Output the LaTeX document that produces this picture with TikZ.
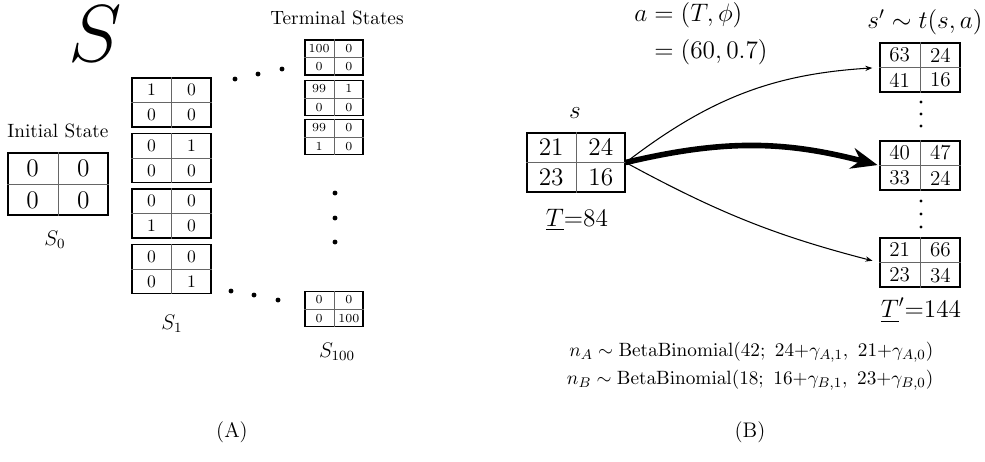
\RequirePackage{fix-cm}
\documentclass[tikz,border=0pt,11pt]{standalone}
\usepackage{amsmath,amssymb}
\usepackage{tikz}
\usetikzlibrary{positioning,calc,arrows.meta}

% 2x2 state table: style prefix, name, centre, four entries
\newcommand{\gridbox}[7]{%
  \node[#1box] (#2) at (#3) {};
  \draw[divider] (#2.north) -- (#2.south) (#2.west) -- (#2.east);
  \node[#1num] at ($(#2.center)!0.5!(#2.north west)$) {#4};
  \node[#1num] at ($(#2.center)!0.5!(#2.north east)$) {#5};
  \node[#1num] at ($(#2.center)!0.5!(#2.south west)$) {#6};
  \node[#1num] at ($(#2.center)!0.5!(#2.south east)$) {#7};
}

\begin{document}
\begin{tikzpicture}[x=0.02cm, y=-0.02cm,
    table/.style={rectangle, draw, line width=0.8pt, inner sep=0pt},
    divider/.style={draw=black!60, line width=0.5pt},
    initbox/.style={table, minimum width=2cm, minimum height=1.24cm},
    initnum/.style={font=\Large, inner sep=0pt},
    stepbox/.style={table, minimum width=1.58cm, minimum height=0.98cm},
    stepnum/.style={font=\fontsize{10}{12}\selectfont, inner sep=0pt},
    termbox/.style={table, minimum width=1.16cm, minimum height=0.7cm},
    termnum/.style={font=\fontsize{7}{8}\selectfont, inner sep=0pt},
    srcbox/.style={table, minimum width=1.96cm, minimum height=1.18cm},
    srcnum/.style={font=\Large, inner sep=0pt},
    nextbox/.style={table, minimum width=1.6cm, minimum height=0.98cm},
    nextnum/.style={font=\large, inner sep=0pt},
    dot/.style={fill=black},
    thin arrow/.style={-{Stealth[length=4pt,width=3pt]}, line width=0.6pt, shorten >=4pt},
    main arrow/.style={-{Stealth[length=15pt,width=12pt,inset=5pt]}, line width=3.2pt, shorten >=1pt}]

    \useasboundingbox (0,0) rectangle (985,461);

    % (A) state space
    \node[font=\fontsize{46}{46}\selectfont, inner sep=0pt] (bigS) at (95,34) {$S$};

    \node (initlabel) at (58,131) {Initial State};
    \gridbox{init}{s0}{58,184}{0}{0}{0}{0}
    \node[font=\large] (s0label) at (55,240) {$S_0$};

    \gridbox{step}{s1a}{171.5,102.5}{1}{0}{0}{0}
    \gridbox{step}{s1b}{171.5,158}{0}{1}{0}{0}
    \gridbox{step}{s1c}{171.5,213.5}{0}{0}{1}{0}
    \gridbox{step}{s1d}{171.5,269}{0}{0}{0}{1}
    \node[font=\large] (s1label) at (172,324) {$S_1$};

    \node (termlabel) at (337,18) {Terminal States};
    \gridbox{term}{t1}{334,57.5}{100}{0}{0}{0}
    \gridbox{term}{t2}{334,98}{99}{1}{0}{0}
    \gridbox{term}{t3}{334,137}{99}{0}{1}{0}
    \gridbox{term}{t4}{334,309}{0}{0}{0}{100}
    \node[font=\large] (s100label) at (337,352) {$S_{100}$};

    \foreach \px/\py in {235/79, 258/74, 282/69, 231/291, 254/295, 278/300,
                         335/193, 335/218, 335/242}
        \fill[dot] (\px,\py) circle[radius=1.4pt];

    \node[font=\large] (capA) at (232,432) {(A)};

    % (B) one transition
    \node[font=\Large] (action) at (701,34)
        {$\begin{aligned} a &= (T,\phi)\\ &= (60,0.7)\end{aligned}$};

    \node[font=\Large] (slabel) at (575,113) {$s$};
    \gridbox{src}{s}{576,162.5}{21}{24}{23}{16}
    \node[font=\Large] (tlabel) at (577,220) {$\underline{T}$=84};

    \node[font=\Large] (nextlabel) at (925,22) {$s' \sim t(s,a)$};
    \gridbox{next}{n1}{920,67.5}{63}{24}{41}{16}
    \gridbox{next}{n2}{920,165.5}{40}{47}{33}{24}
    \gridbox{next}{n3}{920,262.5}{21}{66}{23}{34}
    \node[font=\Large] (tplabel) at (921,310) {$\underline{T}'$=144};

    \foreach \py in {102, 114, 126, 201, 214, 227}
        \fill[dot] (921,\py) circle[radius=0.9pt];

    \draw[thin arrow] (s.east) to[bend left=17] (n1.west);
    \draw[main arrow] (s.east) to[bend left=14] (n2.west);
    \draw[thin arrow] (s.east) to[bend right=7] (n3.west);

    \node[anchor=east] (betaA) at (940,352)
        {$n_A \sim \mathrm{BetaBinomial}(42;\ 24{+}\gamma_{A,1},\ 21{+}\gamma_{A,0})$};
    \node[anchor=east] (betaB) at (940,380)
        {$n_B \sim \mathrm{BetaBinomial}(18;\ 16{+}\gamma_{B,1},\ 23{+}\gamma_{B,0})$};

    \node[font=\large] (capB) at (750,432) {(B)};
\end{tikzpicture}
\end{document}
